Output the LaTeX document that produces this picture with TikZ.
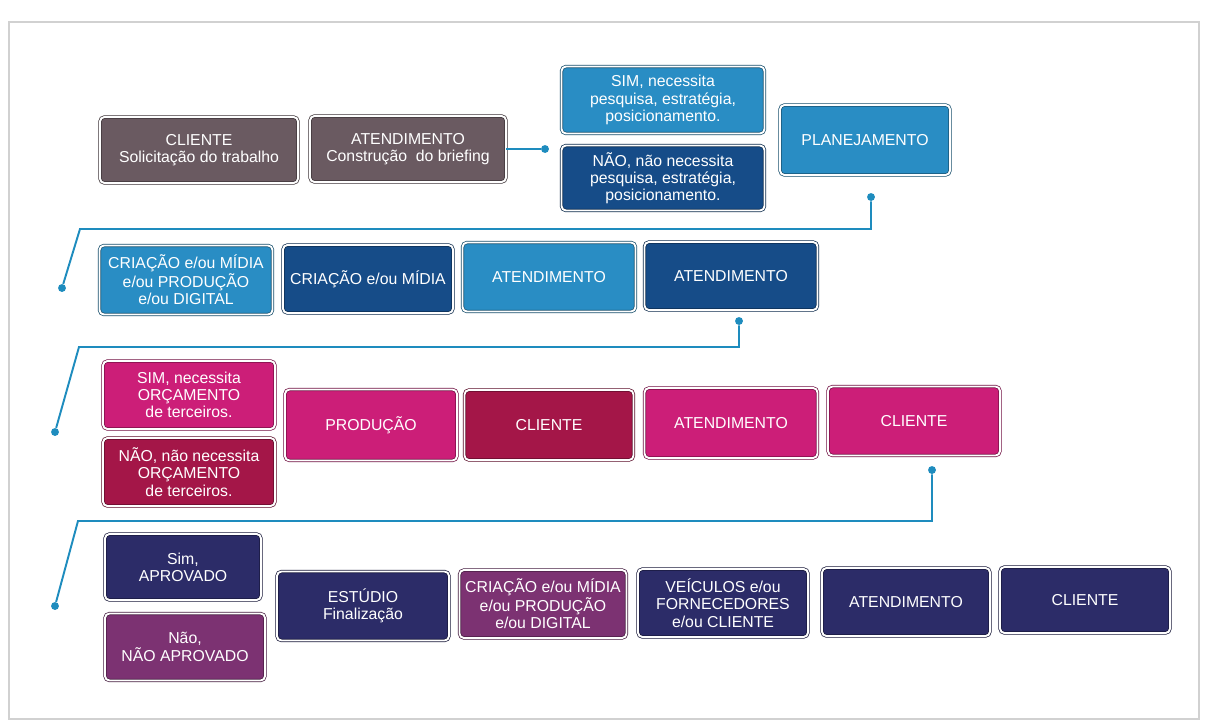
\documentclass[tikz,border=0pt]{standalone}
\usepackage{fontspec}
\setmainfont{Liberation Sans}
\definecolor{mcol}{RGB}{106,90,97}
\definecolor{bcol}{RGB}{41,141,196}
\definecolor{dcol}{RGB}{22,76,136}
\definecolor{pcol}{RGB}{204,30,120}
\definecolor{rcol}{RGB}{164,22,72}
\definecolor{ncol}{RGB}{44,44,104}
\definecolor{vcol}{RGB}{124,50,114}
\definecolor{lcol}{RGB}{30,140,190}
\tikzset{box/.style={rectangle,rounded corners=2.5pt,fill=#1,draw=#1!55!black,
  double=white,double distance=1.1pt,line width=.4pt,text=white,align=center,
  font=\fontsize{9}{9.8}\selectfont,minimum width=3.44cm,minimum height=1.36cm,inner sep=1pt}}
\tikzset{dot/.style={circle,fill=lcol,inner sep=0pt,minimum size=4.5pt}}
\tikzset{link/.style={lcol,line width=1.1pt}}

\begin{document}
\begin{tikzpicture}[x=0.02cm,y=-0.02cm]
\useasboundingbox (0,0) rectangle (1206,724);
\draw [black!18,line width=1pt] (9,22) rectangle (1199,719);

% linha 1
\node [box=mcol,minimum width=3.96cm,minimum height=1.32cm] (cli1) at (199,150) {CLIENTE\\Solicita\c{c}\~ao do trabalho};
\node [box=mcol,minimum width=3.92cm,minimum height=1.32cm] (ate1) at (408,149) {ATENDIMENTO\\Constru\c{c}\~ao\ \ do briefing};
\node [box=bcol,minimum width=4.06cm,minimum height=1.34cm] (sim1) at (663,100) {SIM, necessita\\pesquisa, estrat\'egia,\\posicionamento.};
\node [box=dcol,minimum width=4.06cm,minimum height=1.3cm] (nao1) at (663,178) {N\~AO, n\~ao necessita\\pesquisa, estrat\'egia,\\posicionamento.};
\node [box=bcol,minimum width=3.4cm,minimum height=1.4cm] (plan) at (865,140) {PLANEJAMENTO};

% linha 2
\node [box=bcol,minimum width=3.46cm,minimum height=1.38cm] (cri1) at (186,280) {CRIA\c{C}\~AO e/ou M\'IDIA\\e/ou PRODU\c{C}\~AO\\e/ou DIGITAL};
\node [box=dcol,minimum width=3.4cm] (cri2) at (368,279) {CRIA\c{C}\~AO e/ou M\'IDIA};
\node [box=bcol,minimum width=3.46cm,minimum height=1.38cm] (ate2) at (549,277) {ATENDIMENTO};
\node [box=dcol,minimum width=3.46cm] (ate3) at (731,276) {ATENDIMENTO};

% linha 3
\node [box=pcol] (sim2) at (189,395) {SIM, necessita\\OR\c{C}AMENTO\\de terceiros.};
\node [box=rcol] (nao2) at (189,472) {N\~AO, n\~ao necessita\\OR\c{C}AMENTO\\de terceiros.};
\node [box=pcol,minimum height=1.42cm] (prod) at (371,425) {PRODU\c{C}\~AO};
\node [box=rcol,minimum width=3.38cm,minimum height=1.4cm] (cli2) at (549,425) {CLIENTE};
\node [box=pcol,minimum width=3.46cm,minimum height=1.4cm] (ate4) at (731,423) {ATENDIMENTO};
\node [box=pcol,minimum height=1.38cm] (cli3) at (914,421) {CLIENTE};

% linha 4
\node [box=ncol,minimum width=3.12cm,minimum height=1.32cm] (sim3) at (183,567) {Sim,\\APROVADO};
\node [box=vcol,minimum width=3.2cm,minimum height=1.34cm] (nao3) at (185,647) {N\~ao,\\N\~AO APROVADO};
\node [box=ncol,minimum height=1.38cm] (est) at (363,606) {EST\'UDIO\\Finaliza\c{c}\~ao};
\node [box=vcol,minimum width=3.34cm] (cri3) at (543,604) {CRIA\c{C}\~AO e/ou M\'IDIA\\e/ou PRODU\c{C}\~AO\\e/ou DIGITAL};
\node [box=ncol,minimum width=3.4cm] (vei) at (723,603) {VE\'ICULOS e/ou\\FORNECEDORES\\e/ou CLIENTE};
\node [box=ncol,minimum width=3.36cm] (ate5) at (906,602) {ATENDIMENTO};
\node [box=ncol,minimum width=3.4cm,minimum height=1.32cm] (cli4) at (1085,600) {CLIENTE};

% ligacoes
\node [dot] (d1) at (545,149) {};
\node [dot] (d2) at (871,197) {};
\node [dot] (d3) at (62,288) {};
\node [dot] (d4) at (739,321) {};
\node [dot] (d5) at (55,432) {};
\node [dot] (d6) at (932,470) {};
\node [dot] (d7) at (55,606) {};
\coordinate (k1) at (80,229);
\coordinate (k2) at (79,347);
\coordinate (k3) at (78,521);

\draw [link] (ate1.east) -- (d1);
\draw [link] (d2) |- (k1) -- (d3);
\draw [link] (d4) |- (k2) -- (d5);
\draw [link] (d6) |- (k3) -- (d7);
\end{tikzpicture}
\end{document}
